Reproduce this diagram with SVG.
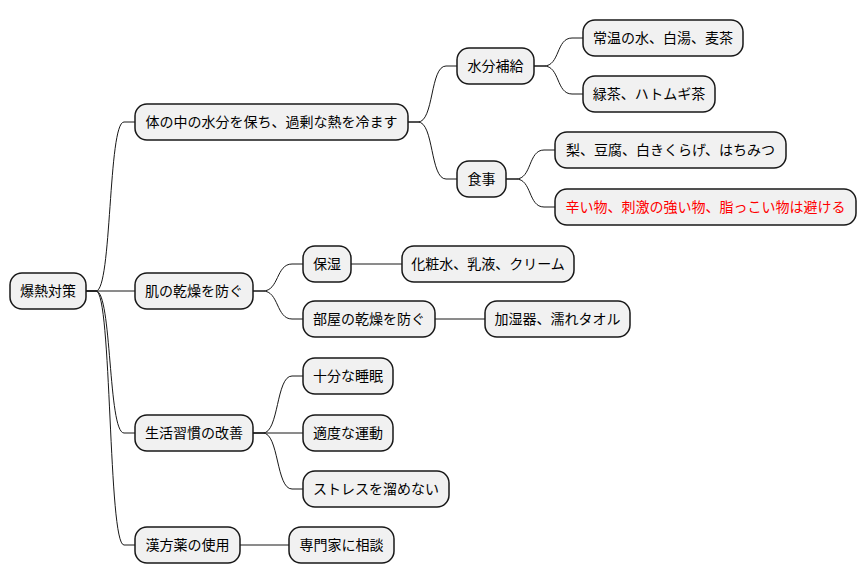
<svg xmlns="http://www.w3.org/2000/svg" width="866" height="583" viewBox="0 0 866 583">
<style>
.n rect{fill:#F1F1F1;stroke:#181818;stroke-width:1.5}
.n text{font-family:"Noto Sans CJK JP","Noto Sans",sans-serif;font-size:14px;fill:#000000;text-anchor:middle}
.n text.red{fill:#FF0000}
#conn path{fill:none;stroke:#181818;stroke-width:1}
</style>
<rect width="866" height="583" fill="#FFFFFF"/>
<g id="conn">
<path d="M86,291 H96 C112,291 108,122 124,122 H135"/>
<path d="M86,291 H135"/>
<path d="M86,291 H96 C112,291 108,433 124,433 H135"/>
<path d="M86,291 H96 C112,291 108,545 124,545 H135"/>
<path d="M408,122 H418 C434,122 430,66 446,66 H457"/>
<path d="M408,122 H418 C434,122 430,179 446,179 H457"/>
<path d="M534,66 H544 C560,66 556,38 572,38 H583"/>
<path d="M534,66 H544 C560,66 556,94 572,94 H583"/>
<path d="M506,179 H516 C532,179 528,150 544,150 H555"/>
<path d="M506,179 H516 C532,179 528,207 544,207 H555"/>
<path d="M253,291 H263 C279,291 276,264 292,264 H303"/>
<path d="M253,291 H263 C279,291 276,319 292,319 H303"/>
<path d="M351,264 H402"/>
<path d="M435,319 H485"/>
<path d="M253,433 H263 C279,433 276,376 292,376 H303"/>
<path d="M253,433 H303"/>
<path d="M253,433 H263 C279,433 276,489 292,489 H303"/>
<path d="M240,545 H289"/>
</g>
<g id="root" class="n"><rect x="10" y="273" width="76" height="36" rx="12"/><text x="48" y="296">爆熱対策</text></g>
<g id="n1" class="n"><rect x="135" y="104" width="273" height="36" rx="12"/><text x="271.5" y="127">体の中の水分を保ち、過剰な熱を冷ます</text></g>
<g id="n2" class="n"><rect x="135" y="273" width="118" height="36" rx="12"/><text x="194" y="296">肌の乾燥を防ぐ</text></g>
<g id="n3" class="n"><rect x="135" y="415" width="118" height="36" rx="12"/><text x="194" y="438">生活習慣の改善</text></g>
<g id="n4" class="n"><rect x="135" y="527" width="105" height="36" rx="12"/><text x="187.5" y="550">漢方薬の使用</text></g>
<g id="n11" class="n"><rect x="457" y="48" width="77" height="36" rx="12"/><text x="495.5" y="71">水分補給</text></g>
<g id="n12" class="n"><rect x="457" y="161" width="49" height="36" rx="12"/><text x="481.5" y="184">食事</text></g>
<g id="n111" class="n"><rect x="583" y="20" width="160" height="36" rx="12"/><text x="663" y="43">常温の水、白湯、麦茶</text></g>
<g id="n112" class="n"><rect x="583" y="76" width="132" height="36" rx="12"/><text x="649" y="99">緑茶、ハトムギ茶</text></g>
<g id="n121" class="n"><rect x="555" y="132" width="231" height="36" rx="12"/><text x="670.5" y="155">梨、豆腐、白きくらげ、はちみつ</text></g>
<g id="n122" class="n"><rect x="555" y="189" width="301" height="36" rx="12"/><text class="red" x="705.5" y="212">辛い物、刺激の強い物、脂っこい物は避ける</text></g>
<g id="n21" class="n"><rect x="303" y="246" width="48" height="36" rx="12"/><text x="327" y="269">保湿</text></g>
<g id="n211" class="n"><rect x="402" y="246" width="172" height="36" rx="12"/><text x="488" y="269">化粧水、乳液、クリーム</text></g>
<g id="n22" class="n"><rect x="303" y="301" width="132" height="36" rx="12"/><text x="369" y="324">部屋の乾燥を防ぐ</text></g>
<g id="n221" class="n"><rect x="485" y="301" width="145" height="36" rx="12"/><text x="557.5" y="324">加湿器、濡れタオル</text></g>
<g id="n31" class="n"><rect x="303" y="358" width="90" height="36" rx="12"/><text x="348" y="381">十分な睡眠</text></g>
<g id="n32" class="n"><rect x="303" y="415" width="90" height="36" rx="12"/><text x="348" y="438">適度な運動</text></g>
<g id="n33" class="n"><rect x="303" y="471" width="146" height="36" rx="12"/><text x="376" y="494">ストレスを溜めない</text></g>
<g id="n41" class="n"><rect x="289" y="527" width="105" height="36" rx="12"/><text x="341.5" y="550">専門家に相談</text></g>
</svg>
